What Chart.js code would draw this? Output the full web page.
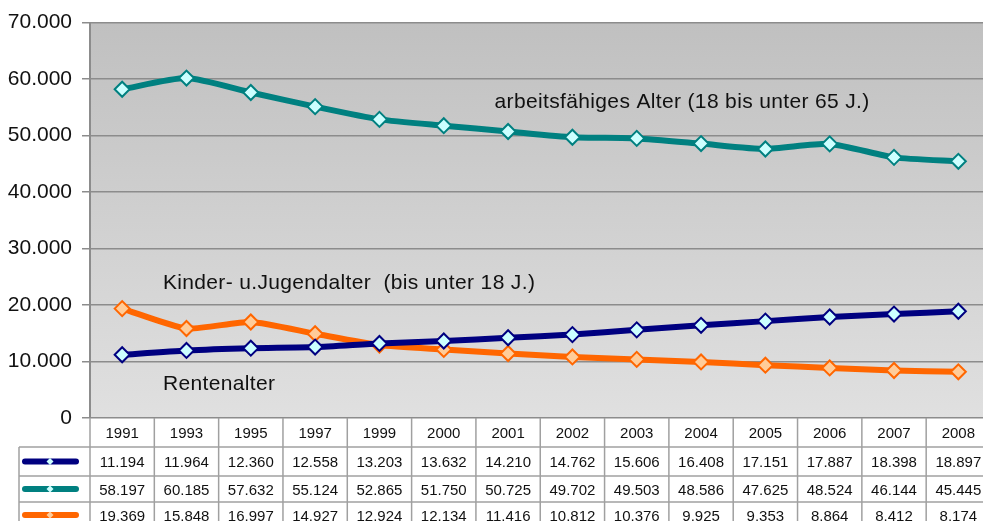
<!DOCTYPE html>
<html>
<head>
<meta charset="utf-8">
<script src="https://cdn.jsdelivr.net/npm/chart.js@4/dist/chart.umd.min.js"></script>
<style>
  html, body { margin: 0; padding: 0; background: #ffffff; overflow: hidden; }
  #wrap { width: 1000px; height: 521px; position: relative; }
</style>
</head>
<body>
<div id="wrap"><canvas id="c" width="1000" height="521"></canvas></div>
<script>
// ---- Data ----
const years = ['1991','1993','1995','1997','1999','2000','2001','2002','2003','2004','2005','2006','2007','2008'];
const kinder = [11194,11964,12360,12558,13203,13632,14210,14762,15606,16408,17151,17887,18398,18897];
const arbeit = [58197,60185,57632,55124,52865,51750,50725,49702,49503,48586,47625,48524,46144,45445];
const rente  = [19369,15848,16997,14927,12924,12134,11416,10812,10376,9925,9353,8864,8412,8174];
const yTicks = [0,10000,20000,30000,40000,50000,60000,70000];

const seriesStyle = [
  { data: kinder, line: '#000080', fill: '#ccffff' },
  { data: arbeit, line: '#008080', fill: '#ccffff' },
  { data: rente,  line: '#ff6600', fill: '#ffcc99' }
];

// annotation labels anchored in data space (category index, value)
const notes = [
  { text: 'arbeitsfähiges Alter (18 bis unter 65 J.)', x: 5.79, y: 54800 },
  { text: 'Kinder- u.Jugendalter  (bis unter 18 J.)', x: 0.633, y: 22800 },
  { text: 'Rentenalter', x: 0.633, y: 4950 }
];

function fmt(v) {
  const s = String(Math.round(v));
  return s.replace(/\B(?=(\d{3})+(?!\d))/g, '.');
}

const FONT = '"Liberation Sans", Arial, sans-serif';

const bgPlugin = {
  id: 'bg',
  beforeDraw(chart) {
    const { ctx, chartArea: a } = chart;
    const g = ctx.createLinearGradient(0, a.top, 0, a.bottom);
    g.addColorStop(0, '#c0c0c0');
    g.addColorStop(1, '#e0e0e0');
    ctx.save();
    ctx.fillStyle = g;
    ctx.fillRect(a.left, a.top, a.right - a.left, a.bottom - a.top);
    ctx.restore();
  }
};

const notesPlugin = {
  id: 'notes',
  afterDatasetsDraw(chart) {
    const { ctx } = chart;
    const xs = chart.scales.x, ys = chart.scales.y;
    ctx.save();
    ctx.fillStyle = '#111111';
    ctx.font = '21px ' + FONT;
    try { ctx.letterSpacing = '0.35px'; } catch (e) {}
    ctx.textBaseline = 'alphabetic';
    ctx.textAlign = 'left';
    notes.forEach(n => {
      ctx.fillText(n.text, xs.getPixelForValue(n.x), ys.getPixelForValue(n.y));
    });
    ctx.restore();
  }
};

const tablePlugin = {
  id: 'table',
  afterDraw(chart) {
    const { ctx, chartArea: a } = chart;
    const xs = chart.scales.x;
    const n = years.length;
    const colW = (a.right - a.left) / n;
    const top = a.bottom;
    const rows = [top, 447, 476, 502, 528];
    const legLeft = 19;
    ctx.save();
    ctx.strokeStyle = '#a0a0a0';
    ctx.lineWidth = 1.5;
    for (let i = 0; i <= n; i++) {
      const x = a.left + i * colW;
      ctx.beginPath();
      ctx.moveTo(x, top);
      ctx.lineTo(x, 521);
      ctx.stroke();
    }
    ctx.beginPath();
    ctx.moveTo(legLeft, rows[1]);
    ctx.lineTo(legLeft, 521);
    ctx.stroke();
    for (let r = 1; r < rows.length - 1; r++) {
      ctx.beginPath();
      ctx.moveTo(legLeft, rows[r]);
      ctx.lineTo(a.right, rows[r]);
      ctx.stroke();
    }
    ctx.fillStyle = '#111111';
    ctx.font = '15px ' + FONT;
    ctx.textAlign = 'center';
    ctx.textBaseline = 'middle';
    years.forEach((y, i) => {
      ctx.fillText(y, xs.getPixelForValue(i), (rows[0] + rows[1]) / 2 + 1.5);
    });
    seriesStyle.forEach((s, r) => {
      const cy = (rows[r + 1] + rows[r + 2]) / 2 + 1.5;
      s.data.forEach((v, i) => {
        ctx.fillText(fmt(v), xs.getPixelForValue(i), cy);
      });
      const ky = (rows[r + 1] + rows[r + 2]) / 2;
      ctx.save();
      ctx.strokeStyle = s.line;
      ctx.lineWidth = 6;
      ctx.lineCap = 'round';
      ctx.beginPath();
      ctx.moveTo(25, ky);
      ctx.lineTo(76, ky);
      ctx.stroke();
      ctx.fillStyle = s.fill;
      ctx.beginPath();
      ctx.moveTo(50, ky - 3.5);
      ctx.lineTo(53.5, ky);
      ctx.lineTo(50, ky + 3.5);
      ctx.lineTo(46.5, ky);
      ctx.closePath();
      ctx.fill();
      ctx.restore();
    });
    ctx.restore();
  }
};

new Chart(document.getElementById('c'), {
  type: 'line',
  data: {
    labels: years,
    datasets: seriesStyle.map(s => ({
      data: s.data,
      borderColor: s.line,
      backgroundColor: s.fill,
      borderWidth: 6,
      tension: 0.2,
      pointStyle: 'rectRot',
      pointRadius: 7.5,
      pointHoverRadius: 7.5,
      pointBorderWidth: 2,
      pointBorderColor: s.line,
      pointBackgroundColor: s.fill,
      fill: false
    }))
  },
  options: {
    responsive: false,
    animation: false,
    events: [],
    layout: { padding: { left: 0, right: 8, top: 22, bottom: 103 } },
    plugins: { legend: { display: false }, tooltip: { enabled: false } },
    scales: {
      x: {
        type: 'category',
        offset: true,
        display: false
      },
      y: {
        min: 0,
        max: 70000,
        afterBuildTicks(scale) { scale.ticks = yTicks.map(v => ({ value: v })); },
        afterFit(scale) { scale.width = 90; },
        ticks: {
          padding: 10,
          color: '#111111',
          font: { family: FONT, size: 21 },
          callback: v => fmt(v)
        },
        grid: {
          color: '#8c8c8c',
          lineWidth: 1.5,
          tickLength: 8,
          drawTicks: true
        },
        border: { display: true, color: '#8c8c8c', width: 2 }
      }
    }
  },
  plugins: [bgPlugin, notesPlugin, tablePlugin]
});
</script>
</body>
</html>
